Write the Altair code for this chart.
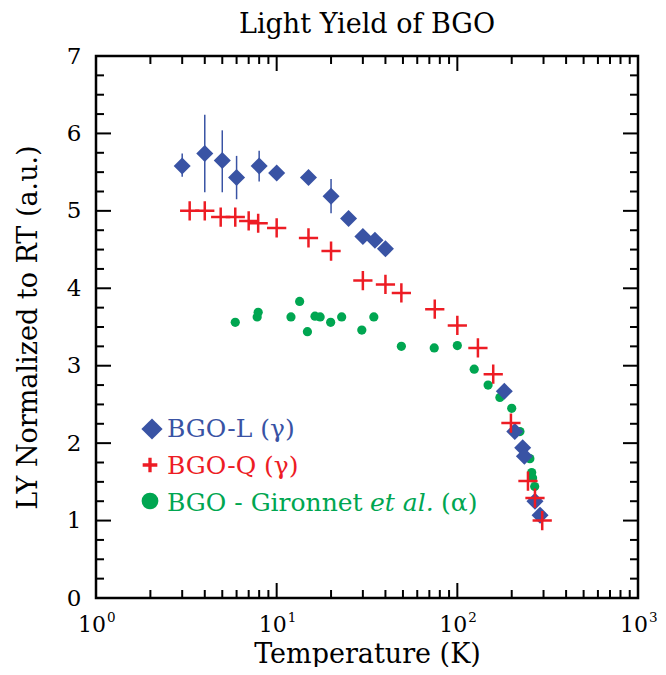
import altair as alt
import pandas as pd

# ---------------- data ----------------
L_T = [3, 4, 5, 6, 8, 10, 15, 20, 25, 30, 35, 40, 182, 208, 230, 235, 269, 287]
L_LY = [5.58, 5.74, 5.65, 5.43, 5.58, 5.49, 5.43, 5.19, 4.90, 4.67, 4.62, 4.51,
        2.67, 2.15, 1.94, 1.83, 1.25, 1.07]

ERR_T = [3, 4, 5, 6, 8, 20]
ERR_LO = [5.44, 5.24, 5.24, 5.15, 5.38, 4.97]
ERR_HI = [5.74, 6.24, 6.04, 5.71, 5.775, 5.41]

Q_T = [3.3, 4, 4.9, 5.9, 7, 7.9, 10, 15, 20, 30, 40, 49, 75, 100, 130, 158,
       198, 246, 269, 295]
Q_LY = [5.0, 5.0, 4.92, 4.92, 4.87, 4.84, 4.78, 4.65, 4.48, 4.10, 4.05, 3.94,
        3.73, 3.52, 3.23, 2.89, 2.26, 1.51, 1.29, 1.0]

G_T = [5.9, 7.8, 7.9, 12, 13.4, 14.8, 16.3, 17.4, 19.9, 22.9, 29.6, 34.5, 49,
       74.5, 100, 124, 148, 172, 200, 222, 252, 258, 261, 268]
G_LY = [3.56, 3.63, 3.69, 3.63, 3.83, 3.44, 3.64, 3.63, 3.56, 3.63, 3.46, 3.63,
        3.25, 3.23, 3.26, 2.955, 2.75, 2.59, 2.45, 2.15, 1.80, 1.62, 1.55, 1.44]

X_MAJOR = [1, 10, 100, 1000]
X_EXP = ["0", "1", "2", "3"]
X_MINOR = [2, 3, 4, 5, 6, 7, 8, 9, 20, 30, 40, 50, 60, 70, 80, 90,
           200, 300, 400, 500, 600, 700, 800, 900]
Y_MAJOR = [0, 1, 2, 3, 4, 5, 6, 7]
Y_MINOR = [0.25, 0.5, 0.75, 1.25, 1.5, 1.75, 2.25, 2.5, 2.75, 3.25, 3.5, 3.75,
           4.25, 4.5, 4.75, 5.25, 5.5, 5.75, 6.25, 6.5, 6.75]

LEGEND_LABELS = ["BGO-L (γ)", "BGO-Q (γ)", "BGO - Gironnet", "et al.", "(α)"]

TITLE = "Light Yield of BGO"
X_TITLE = "Temperature (K)"
Y_TITLE = "LY Normalized to RT (a.u.)"

BLUE = "#3953A4"
RED = "#ED1C24"
GREEN = "#00A651"
FONT = "DejaVu Serif"

W = 542
H = 542
MAJ = 15
MIN = 8

# ---------------- scales / axes ----------------
xscale = alt.Scale(type="log", domain=[1, 1000], nice=False)
yscale = alt.Scale(domain=[0, 7], nice=False, zero=False)

xaxis = alt.Axis(
    values=X_MAJOR, labels=False,
    ticks=False, tickSize=0, domain=False, grid=False,
    title=X_TITLE, titleFont=FONT, titleFontSize=27, titleFontWeight="normal",
    titleColor="black", titleBaseline="alphabetic", titleY=64, titleX=W / 2,
    titleAlign="center",
)
yaxis = alt.Axis(
    values=Y_MAJOR, format="d",
    ticks=False, tickSize=0, domain=False, grid=False,
    labelFont=FONT, labelFontSize=23, labelColor="black",
    labelPadding=15, labelFlush=False, labelOverlap=False,
    title=Y_TITLE, titleFont=FONT, titleFontSize=27, titleFontWeight="normal",
    titleColor="black", titleBaseline="alphabetic", titleAngle=270,
    titleX=-60, titleY=H / 2, titleAlign="center",
)

X = lambda f="T": alt.X(f"{f}:Q", scale=xscale, axis=xaxis)
Y = lambda f="LY": alt.Y(f"{f}:Q", scale=yscale, axis=yaxis)

df_L = pd.DataFrame({"T": L_T, "LY": L_LY})
df_E = pd.DataFrame({"T": ERR_T, "LY": ERR_LO, "LY2": ERR_HI})
df_Q = pd.DataFrame({"T": Q_T, "LY": Q_LY})
df_G = pd.DataFrame({"T": G_T, "LY": G_LY})

green = alt.Chart(df_G).mark_circle(size=85, color=GREEN, opacity=1).encode(x=X(), y=Y())
err = alt.Chart(df_E).mark_rule(color=BLUE, strokeWidth=1.5).encode(x=X(), y=Y(), y2="LY2:Q")
diam = alt.Chart(df_L).mark_point(shape="diamond", filled=True, size=290, color=BLUE,
                                  opacity=1).encode(x=X(), y=Y())
cross = alt.Chart(df_Q).mark_point(shape="M-1,0H1M0,-1V1", filled=False, size=370,
                                   color=RED, strokeWidth=2.5, opacity=1).encode(x=X(), y=Y())

# ---------------- inward ticks ----------------
def xticks(vals, length):
    d = pd.DataFrame({"T": vals})
    b = alt.Chart(d).mark_rule(color="black", strokeWidth=2).encode(
        x=X(), y=alt.value(H), y2=alt.value(H - length))
    t = alt.Chart(d).mark_rule(color="black", strokeWidth=2).encode(
        x=X(), y=alt.value(0), y2=alt.value(length))
    return [b, t]

def yticks(vals, length):
    d = pd.DataFrame({"LY": vals})
    l = alt.Chart(d).mark_rule(color="black", strokeWidth=2).encode(
        y=Y(), x=alt.value(0), x2=alt.value(length))
    r = alt.Chart(d).mark_rule(color="black", strokeWidth=2).encode(
        y=Y(), x=alt.value(W), x2=alt.value(W - length))
    return [l, r]

ticks = xticks(X_MAJOR, MAJ) + xticks(X_MINOR, MIN) + yticks(Y_MAJOR, MAJ) + yticks(Y_MINOR, MIN)

# ---------------- x tick labels: 10 with superscript exponent ----------------
df_xl = pd.DataFrame({"T": X_MAJOR, "base": ["10"] * len(X_MAJOR), "exp": X_EXP})
xl_base = alt.Chart(df_xl).mark_text(font=FONT, fontSize=22, color="black", align="right",
                                     baseline="alphabetic", dx=10).encode(
    x=X(), y=alt.value(H + 34), text="base:N")
xl_exp = alt.Chart(df_xl).mark_text(font=FONT, fontSize=13.5, color="black", align="left",
                                    baseline="alphabetic", dx=11).encode(
    x=X(), y=alt.value(H + 24), text="exp:N")

# ---------------- title ----------------
one = pd.DataFrame({"k": [0]})
title = alt.Chart(one).mark_text(font=FONT, fontSize=27, color="black", align="center",
                                 baseline="alphabetic").encode(
    x=alt.value(W / 2), y=alt.value(-23), text=alt.value(TITLE))

# ---------------- manual legend ----------------
leg = [
    alt.Chart(one).mark_point(shape="diamond", filled=True, size=450, color=BLUE, opacity=1)
    .encode(x=alt.value(56), y=alt.value(373)),
    alt.Chart(one).mark_point(shape="M-1,0H1M0,-1V1", filled=False, size=215, color=RED,
                              strokeWidth=3.3, opacity=1)
    .encode(x=alt.value(54), y=alt.value(409)),
    alt.Chart(one).mark_circle(size=280, color=GREEN, opacity=1)
    .encode(x=alt.value(54), y=alt.value(445)),
]
txt_pos = [(71, 381, BLUE, "normal"), (71, 418, RED, "normal"), (71, 455, GREEN, "normal"),
           (274, 455, GREEN, "italic"), (345, 455, GREEN, "normal")]
for lab, (tx, ty, col, style) in zip(LEGEND_LABELS, txt_pos):
    leg.append(
        alt.Chart(one).mark_text(font=FONT, fontSize=25, color=col, fontStyle=style,
                                 align="left", baseline="alphabetic")
        .encode(x=alt.value(tx), y=alt.value(ty), text=alt.value(lab))
    )

chart = alt.layer(green, err, diam, cross, *ticks, xl_base, xl_exp, title, *leg).properties(
    width=W, height=H,
    padding={"left": 88, "top": 48, "right": 20, "bottom": 69},
    autosize=alt.AutoSizeParams(type="none"),
).configure_view(stroke="black", strokeWidth=2.5).configure_axis(grid=False)

chart.save("out.html", embed_options={"renderer": "svg", "actions": False})
